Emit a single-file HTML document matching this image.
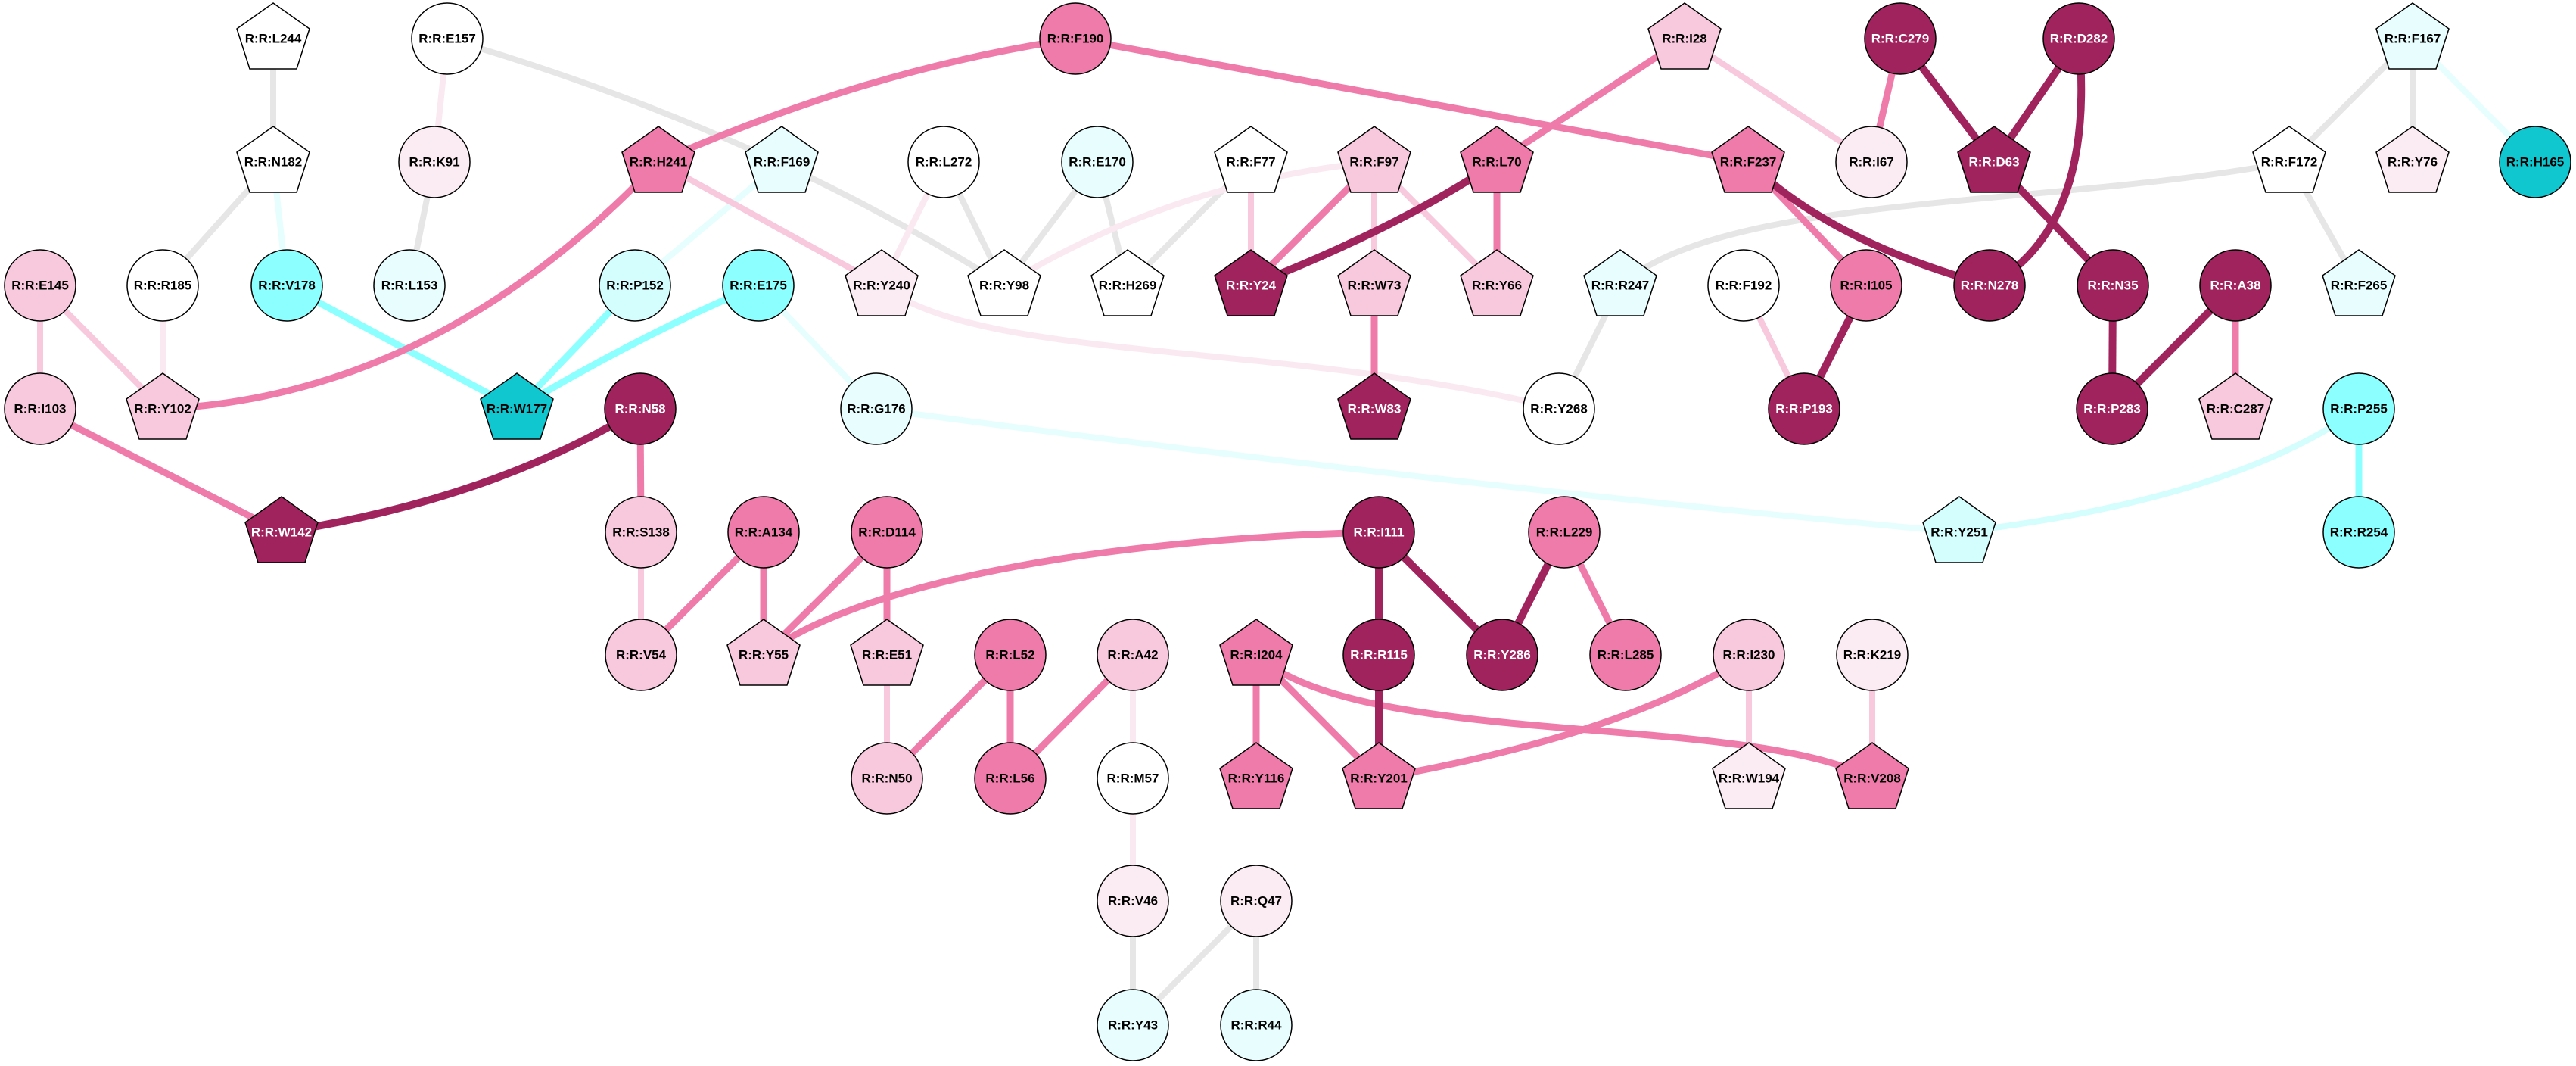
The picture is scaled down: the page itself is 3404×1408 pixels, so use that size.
<!DOCTYPE html>
<html><head><meta charset="utf-8"><style>
html,body{margin:0;padding:0;background:#fff;}
svg{display:block;}
text{font-family:"Liberation Sans",Arial,sans-serif;font-weight:bold;font-size:17px;text-anchor:middle;dominant-baseline:central;}
</style></head><body>
<svg width="3404" height="1408" viewBox="0 0 3404 1408" xmlns="http://www.w3.org/2000/svg">
<defs>
<polygon id="pent" points="0,-47 48,-13 31,40 -31,40 -48,-13" stroke="#000" stroke-width="1.5"/>
</defs>
<g fill="none" stroke-linecap="butt">
<g stroke="#e6e6e6" stroke-width="8">
<line x1="361" y1="51" x2="361" y2="214"/>
<path d="M591,51 Q1000,170 1327,377"/>
<line x1="574" y1="214" x2="541" y2="377"/>
<line x1="361" y1="214" x2="215" y2="377"/>
<line x1="1247" y1="214" x2="1327" y2="377"/>
<line x1="1450" y1="214" x2="1327" y2="377"/>
<line x1="1450" y1="214" x2="1490" y2="377"/>
<line x1="1653" y1="214" x2="1490" y2="377"/>
<line x1="2141" y1="377" x2="2060" y2="540"/>
<path d="M3025,214 C2700,275 2280,255 2141,377"/>
<line x1="3188" y1="51" x2="3025" y2="214"/>
<line x1="3188" y1="51" x2="3188" y2="214"/>
<line x1="3025" y1="214" x2="3117" y2="377"/>
<line x1="1497" y1="1190" x2="1497" y2="1354"/>
<line x1="1660" y1="1190" x2="1497" y2="1354"/>
<line x1="1660" y1="1190" x2="1660" y2="1354"/>
</g>
<g stroke="#fbe9f1" stroke-width="8">
<line x1="591" y1="51" x2="574" y2="214"/>
<line x1="215" y1="377" x2="215" y2="540"/>
<line x1="1247" y1="214" x2="1165" y2="377"/>
<path d="M1816,214 Q1550,240 1327,377"/>
<path d="M1165,377 C1300,480 1700,450 2060,540"/>
<line x1="1497" y1="865" x2="1497" y2="1028"/>
<line x1="1497" y1="1028" x2="1497" y2="1190"/>
</g>
<g stroke="#e6fefe" stroke-width="8">
<line x1="361" y1="214" x2="379" y2="377"/>
<line x1="1033" y1="214" x2="839" y2="377"/>
<line x1="1002" y1="377" x2="1158" y2="540"/>
<path d="M1158,540 Q1900,640 2589,703"/>
<line x1="3188" y1="51" x2="3350" y2="214"/>
</g>
<path d="M3117,540 Q2950,660 2589,703" stroke="#d4fdfd" stroke-width="8"/>
<g stroke="#8cffff" stroke-width="9">
<line x1="379" y1="377" x2="683" y2="540"/>
<line x1="839" y1="377" x2="683" y2="540"/>
<path d="M1002,377 Q850,440 683,540"/>
<line x1="3117" y1="540" x2="3117" y2="703"/>
</g>
<g stroke="#f8c8dc" stroke-width="8">
<line x1="870" y1="214" x2="1165" y2="377"/>
<line x1="53" y1="377" x2="53" y2="540"/>
<line x1="53" y1="377" x2="215" y2="540"/>
<line x1="1653" y1="214" x2="1653" y2="377"/>
<line x1="1816" y1="214" x2="1816" y2="377"/>
<line x1="1816" y1="214" x2="1978" y2="377"/>
<line x1="2226" y1="51" x2="2473" y2="214"/>
<line x1="2304" y1="377" x2="2384" y2="540"/>
<line x1="847" y1="703" x2="847" y2="865"/>
<line x1="1172" y1="865" x2="1172" y2="1028"/>
<line x1="2311" y1="865" x2="2311" y2="1028"/>
<line x1="2474" y1="865" x2="2474" y2="1028"/>
</g>
<g stroke="#ef7baa" stroke-width="9">
<path d="M870,214 Q577,523 215,540"/>
<path d="M1421,51 Q1150,90 870,214"/>
<line x1="1421" y1="51" x2="2310" y2="214"/>
<line x1="53" y1="540" x2="372" y2="703"/>
<line x1="846" y1="540" x2="847" y2="703"/>
<line x1="1816" y1="214" x2="1653" y2="377"/>
<line x1="1978" y1="214" x2="1978" y2="377"/>
<line x1="1978" y1="214" x2="2226" y2="51"/>
<line x1="1816" y1="377" x2="1816" y2="540"/>
<line x1="2511" y1="51" x2="2473" y2="214"/>
<line x1="2310" y1="214" x2="2466" y2="377"/>
<line x1="2954" y1="377" x2="2954" y2="540"/>
<line x1="1009" y1="703" x2="847" y2="865"/>
<line x1="1009" y1="703" x2="1009" y2="865"/>
<line x1="1172" y1="703" x2="1009" y2="865"/>
<line x1="1172" y1="703" x2="1172" y2="865"/>
<path d="M1822,703 C1500,710 1150,760 1009,865"/>
<line x1="1335" y1="865" x2="1172" y2="1028"/>
<line x1="1335" y1="865" x2="1335" y2="1028"/>
<line x1="1497" y1="865" x2="1335" y2="1028"/>
<line x1="2067" y1="703" x2="2148" y2="865"/>
<line x1="1660" y1="865" x2="1660" y2="1028"/>
<line x1="1660" y1="865" x2="1822" y2="1028"/>
<path d="M1660,865 C1800,990 2300,940 2474,1028"/>
<path d="M2311,865 Q2150,970 1822,1028"/>
</g>
<g stroke="#a0235e" stroke-width="10">
<path d="M846,540 Q650,660 372,703"/>
<path d="M1978,214 Q1850,300 1653,377"/>
<line x1="2511" y1="51" x2="2635" y2="214"/>
<line x1="2747" y1="51" x2="2635" y2="214"/>
<path d="M2747,51 Q2770,300 2629,377"/>
<line x1="2635" y1="214" x2="2792" y2="377"/>
<path d="M2310,214 Q2420,320 2629,377"/>
<line x1="2466" y1="377" x2="2384" y2="540"/>
<line x1="2792" y1="377" x2="2791" y2="540"/>
<line x1="2954" y1="377" x2="2791" y2="540"/>
<line x1="1822" y1="703" x2="1822" y2="865"/>
<line x1="1822" y1="703" x2="1985" y2="865"/>
<line x1="2067" y1="703" x2="1985" y2="865"/>
<line x1="1822" y1="865" x2="1822" y2="1028"/>
</g>
</g>
<g stroke="#000" stroke-width="1.5">
<g>
<ellipse cx="591" cy="51" rx="47" ry="47" fill="#ffffff"/>
<ellipse cx="1421" cy="51" rx="47" ry="47" fill="#ef7baa"/>
<ellipse cx="2511" cy="51" rx="47" ry="47" fill="#a0235e"/>
<ellipse cx="2747" cy="51" rx="47" ry="47" fill="#a0235e"/>
<ellipse cx="574" cy="214" rx="47" ry="47" fill="#fbebf2"/>
<ellipse cx="1247" cy="214" rx="47" ry="47" fill="#ffffff"/>
<ellipse cx="1450" cy="214" rx="47" ry="47" fill="#e8fefe"/>
<ellipse cx="2473" cy="214" rx="47" ry="47" fill="#fbebf2"/>
<ellipse cx="3350" cy="214" rx="47" ry="47" fill="#10c7d0"/>
<ellipse cx="53" cy="377" rx="47" ry="47" fill="#f8c8dc"/>
<ellipse cx="215" cy="377" rx="47" ry="47" fill="#ffffff"/>
<ellipse cx="379" cy="377" rx="47" ry="47" fill="#8cffff"/>
<ellipse cx="541" cy="377" rx="47" ry="47" fill="#e8fefe"/>
<ellipse cx="839" cy="377" rx="47" ry="47" fill="#d4fdfd"/>
<ellipse cx="1002" cy="377" rx="47" ry="47" fill="#8cffff"/>
<ellipse cx="2304" cy="377" rx="47" ry="47" fill="#ffffff"/>
<ellipse cx="2466" cy="377" rx="47" ry="47" fill="#ef7baa"/>
<ellipse cx="2629" cy="377" rx="47" ry="47" fill="#a0235e"/>
<ellipse cx="2792" cy="377" rx="47" ry="47" fill="#a0235e"/>
<ellipse cx="2954" cy="377" rx="47" ry="47" fill="#a0235e"/>
<ellipse cx="53" cy="540" rx="47" ry="47" fill="#f8c8dc"/>
<ellipse cx="846" cy="540" rx="47" ry="47" fill="#a0235e"/>
<ellipse cx="1158" cy="540" rx="47" ry="47" fill="#e8fefe"/>
<ellipse cx="2060" cy="540" rx="47" ry="47" fill="#ffffff"/>
<ellipse cx="2384" cy="540" rx="47" ry="47" fill="#a0235e"/>
<ellipse cx="2791" cy="540" rx="47" ry="47" fill="#a0235e"/>
<ellipse cx="3117" cy="540" rx="47" ry="47" fill="#8cffff"/>
<ellipse cx="847" cy="703" rx="47" ry="47" fill="#f8c8dc"/>
<ellipse cx="1009" cy="703" rx="47" ry="47" fill="#ef7baa"/>
<ellipse cx="1172" cy="703" rx="47" ry="47" fill="#ef7baa"/>
<ellipse cx="1822" cy="703" rx="47" ry="47" fill="#a0235e"/>
<ellipse cx="2067" cy="703" rx="47" ry="47" fill="#ef7baa"/>
<ellipse cx="3117" cy="703" rx="47" ry="47" fill="#8cffff"/>
<ellipse cx="847" cy="865" rx="47" ry="47" fill="#f8c8dc"/>
<ellipse cx="1335" cy="865" rx="47" ry="47" fill="#ef7baa"/>
<ellipse cx="1497" cy="865" rx="47" ry="47" fill="#f8c8dc"/>
<ellipse cx="1822" cy="865" rx="47" ry="47" fill="#a0235e"/>
<ellipse cx="1985" cy="865" rx="47" ry="47" fill="#a0235e"/>
<ellipse cx="2148" cy="865" rx="47" ry="47" fill="#ef7baa"/>
<ellipse cx="2311" cy="865" rx="47" ry="47" fill="#f8c8dc"/>
<ellipse cx="2474" cy="865" rx="47" ry="47" fill="#fbebf2"/>
<ellipse cx="1172" cy="1028" rx="47" ry="47" fill="#f8c8dc"/>
<ellipse cx="1335" cy="1028" rx="47" ry="47" fill="#ef7baa"/>
<ellipse cx="1497" cy="1028" rx="47" ry="47" fill="#ffffff"/>
<ellipse cx="1497" cy="1190" rx="47" ry="47" fill="#fbebf2"/>
<ellipse cx="1660" cy="1190" rx="47" ry="47" fill="#fbebf2"/>
<ellipse cx="1497" cy="1354" rx="47" ry="47" fill="#e8fefe"/>
<ellipse cx="1660" cy="1354" rx="47" ry="47" fill="#e8fefe"/>
</g>
<use href="#pent" x="361" y="51" fill="#ffffff"/>
<use href="#pent" x="2226" y="51" fill="#f8c8dc"/>
<use href="#pent" x="3188" y="51" fill="#e8fefe"/>
<use href="#pent" x="361" y="214" fill="#ffffff"/>
<use href="#pent" x="870" y="214" fill="#ef7baa"/>
<use href="#pent" x="1033" y="214" fill="#e8fefe"/>
<use href="#pent" x="1653" y="214" fill="#ffffff"/>
<use href="#pent" x="1816" y="214" fill="#f8c8dc"/>
<use href="#pent" x="1978" y="214" fill="#ef7baa"/>
<use href="#pent" x="2310" y="214" fill="#ef7baa"/>
<use href="#pent" x="2635" y="214" fill="#a0235e"/>
<use href="#pent" x="3025" y="214" fill="#ffffff"/>
<use href="#pent" x="3188" y="214" fill="#fbebf2"/>
<use href="#pent" x="1165" y="377" fill="#fbebf2"/>
<use href="#pent" x="1327" y="377" fill="#ffffff"/>
<use href="#pent" x="1490" y="377" fill="#ffffff"/>
<use href="#pent" x="1653" y="377" fill="#a0235e"/>
<use href="#pent" x="1816" y="377" fill="#f8c8dc"/>
<use href="#pent" x="1978" y="377" fill="#f8c8dc"/>
<use href="#pent" x="2141" y="377" fill="#e8fefe"/>
<use href="#pent" x="3117" y="377" fill="#e8fefe"/>
<use href="#pent" x="215" y="540" fill="#f8c8dc"/>
<use href="#pent" x="683" y="540" fill="#10c7d0"/>
<use href="#pent" x="1816" y="540" fill="#a0235e"/>
<use href="#pent" x="2954" y="540" fill="#f8c8dc"/>
<use href="#pent" x="372" y="703" fill="#a0235e"/>
<use href="#pent" x="2589" y="703" fill="#d4fdfd"/>
<use href="#pent" x="1009" y="865" fill="#f8c8dc"/>
<use href="#pent" x="1172" y="865" fill="#f8c8dc"/>
<use href="#pent" x="1660" y="865" fill="#ef7baa"/>
<use href="#pent" x="1660" y="1028" fill="#ef7baa"/>
<use href="#pent" x="1822" y="1028" fill="#ef7baa"/>
<use href="#pent" x="2311" y="1028" fill="#fbebf2"/>
<use href="#pent" x="2474" y="1028" fill="#ef7baa"/>
</g>
<g fill="#000">
<text x="361" y="51">R:R:L244</text>
<text x="591" y="51">R:R:E157</text>
<text x="1421" y="51">R:R:F190</text>
<text x="2226" y="51">R:R:I28</text>
<text x="3188" y="51">R:R:F167</text>
<text x="361" y="214">R:R:N182</text>
<text x="574" y="214">R:R:K91</text>
<text x="870" y="214">R:R:H241</text>
<text x="1033" y="214">R:R:F169</text>
<text x="1247" y="214">R:R:L272</text>
<text x="1450" y="214">R:R:E170</text>
<text x="1653" y="214">R:R:F77</text>
<text x="1816" y="214">R:R:F97</text>
<text x="1978" y="214">R:R:L70</text>
<text x="2310" y="214">R:R:F237</text>
<text x="2473" y="214">R:R:I67</text>
<text x="3025" y="214">R:R:F172</text>
<text x="3188" y="214">R:R:Y76</text>
<text x="3350" y="214">R:R:H165</text>
<text x="53" y="377">R:R:E145</text>
<text x="215" y="377">R:R:R185</text>
<text x="379" y="377">R:R:V178</text>
<text x="541" y="377">R:R:L153</text>
<text x="839" y="377">R:R:P152</text>
<text x="1002" y="377">R:R:E175</text>
<text x="1165" y="377">R:R:Y240</text>
<text x="1327" y="377">R:R:Y98</text>
<text x="1490" y="377">R:R:H269</text>
<text x="1816" y="377">R:R:W73</text>
<text x="1978" y="377">R:R:Y66</text>
<text x="2141" y="377">R:R:R247</text>
<text x="2304" y="377">R:R:F192</text>
<text x="2466" y="377">R:R:I105</text>
<text x="3117" y="377">R:R:F265</text>
<text x="53" y="540">R:R:I103</text>
<text x="215" y="540">R:R:Y102</text>
<text x="683" y="540">R:R:W177</text>
<text x="1158" y="540">R:R:G176</text>
<text x="2060" y="540">R:R:Y268</text>
<text x="2954" y="540">R:R:C287</text>
<text x="3117" y="540">R:R:P255</text>
<text x="847" y="703">R:R:S138</text>
<text x="1009" y="703">R:R:A134</text>
<text x="1172" y="703">R:R:D114</text>
<text x="2067" y="703">R:R:L229</text>
<text x="2589" y="703">R:R:Y251</text>
<text x="3117" y="703">R:R:R254</text>
<text x="847" y="865">R:R:V54</text>
<text x="1009" y="865">R:R:Y55</text>
<text x="1172" y="865">R:R:E51</text>
<text x="1335" y="865">R:R:L52</text>
<text x="1497" y="865">R:R:A42</text>
<text x="1660" y="865">R:R:I204</text>
<text x="2148" y="865">R:R:L285</text>
<text x="2311" y="865">R:R:I230</text>
<text x="2474" y="865">R:R:K219</text>
<text x="1172" y="1028">R:R:N50</text>
<text x="1335" y="1028">R:R:L56</text>
<text x="1497" y="1028">R:R:M57</text>
<text x="1660" y="1028">R:R:Y116</text>
<text x="1822" y="1028">R:R:Y201</text>
<text x="2311" y="1028">R:R:W194</text>
<text x="2474" y="1028">R:R:V208</text>
<text x="1497" y="1190">R:R:V46</text>
<text x="1660" y="1190">R:R:Q47</text>
<text x="1497" y="1354">R:R:Y43</text>
<text x="1660" y="1354">R:R:R44</text>
</g>
<g fill="#fff">
<text x="2511" y="51">R:R:C279</text>
<text x="2747" y="51">R:R:D282</text>
<text x="2635" y="214">R:R:D63</text>
<text x="1653" y="377">R:R:Y24</text>
<text x="2629" y="377">R:R:N278</text>
<text x="2792" y="377">R:R:N35</text>
<text x="2954" y="377">R:R:A38</text>
<text x="846" y="540">R:R:N58</text>
<text x="1816" y="540">R:R:W83</text>
<text x="2384" y="540">R:R:P193</text>
<text x="2791" y="540">R:R:P283</text>
<text x="372" y="703">R:R:W142</text>
<text x="1822" y="703">R:R:I111</text>
<text x="1822" y="865">R:R:R115</text>
<text x="1985" y="865">R:R:Y286</text>
</g>
</svg>
</body></html>
